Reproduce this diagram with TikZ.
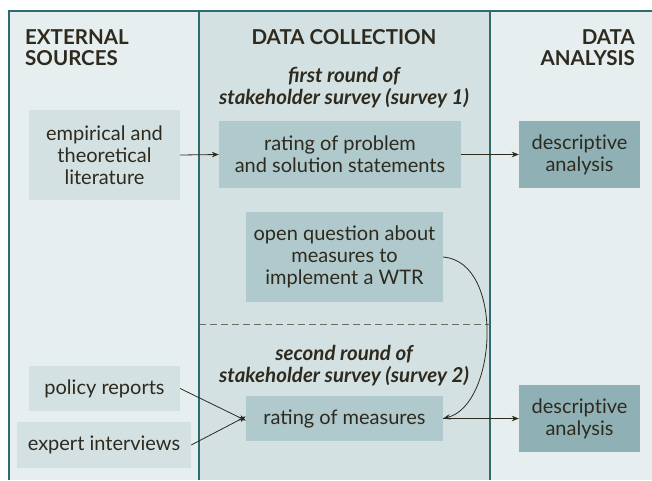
\documentclass[tikz,border=0pt]{standalone}
\usepackage{fontspec}
\setmainfont{Lato}
\usetikzlibrary{arrows.meta}
\definecolor{bglight}{HTML}{E6EEF0}
\definecolor{bgmid}{HTML}{D4E1E3}
\definecolor{boxlight}{HTML}{D3E1E2}
\definecolor{boxmid}{HTML}{AFC9CD}
\definecolor{boxdark}{HTML}{8FB1B5}
\definecolor{framec}{HTML}{2E6B6E}
\definecolor{ink}{HTML}{2E2A1E}
\definecolor{dashc}{HTML}{6D6A5E}
\newcommand{\descr}{descript\kern0pt ive}
\tikzset{
  every node/.style={text=ink},
  boxbase/.style={inner sep=0pt, align=center, font=\fontsize{20}{22}\selectfont},
  srcbox/.style={boxbase, fill=boxlight},
  colbox/.style={boxbase, fill=boxmid},
  anbox/.style={boxbase, fill=boxdark},
  hdr/.style={inner sep=0pt, font=\fontsize{20.5}{21}\selectfont\bfseries},
  ttl/.style={inner sep=0pt, align=center, font=\fontsize{20.5}{22}\selectfont\bfseries\itshape},
  conn/.style={draw=ink, line width=0.8pt, -{Stealth[length=7pt,width=5.5pt]}},
  frame/.style={draw=framec, line width=1.4pt}
}
\begin{document}
\begin{tikzpicture}[x=1pt,y=-1pt]
\useasboundingbox (0,0) rectangle (652,480);
\fill[white] (0,0) rectangle (652,480);
% columns
\fill[bglight] (9,11) rectangle (199,480);
\fill[bgmid] (199,11) rectangle (490,480);
\fill[bglight] (490,11) rectangle (652,480);
\draw[frame] (9,480) -- (9,11) -- (652,11);
\draw[frame] (199,11) -- (199,480);
\draw[frame] (490,11) -- (490,480);
\draw[dashc, line width=0.9pt, dash pattern=on 7pt off 4pt] (199,324) -- (490,324);
% headers
\node[hdr, anchor=north west, align=left] (h1) at (25,29) {EXTERNAL\\SOURCES};
\node[hdr, anchor=north] (h2) at (344,29) {DATA COLLECTION};
\node[hdr, anchor=north east, align=right] (h3) at (635,29) {DATA\\ANALYSIS};
\node[ttl, anchor=north] (t1) at (344,67) {first round of\\stakeholder survey (survey 1)};
\node[ttl, anchor=north] (t2) at (344,345) {second round of\\stakeholder survey (survey 2)};
% boxes
\node[srcbox, minimum width=151pt, minimum height=90pt] (emp) at (104.5,155) {empirical and\\theoretical\\literature};
\node[colbox, minimum width=242pt, minimum height=67pt] (r1) at (340,154.5) {rating of problem\\and solution statements};
\node[anbox, minimum width=121pt, minimum height=67pt] (da1) at (579.5,154.5) {\descr\\analysis};
\node[colbox, minimum width=197pt, minimum height=90pt] (oq) at (344.5,257) {open question about\\measures to\\implement a WTR};
\node[srcbox, minimum width=151pt, minimum height=45pt] (pol) at (104.5,388.5) {policy reports};
\node[srcbox, minimum width=174pt, minimum height=46pt] (exp) at (104,445) {expert interviews};
\node[colbox, minimum width=197pt, minimum height=45pt] (rm) at (344.5,418.5) {rating of measures};
\node[anbox, minimum width=121pt, minimum height=67pt] (da2) at (579.5,418.5) {\descr\\analysis};
% connectors
\draw[conn] (emp.east) -- (r1.west);
\draw[conn] (r1.east) -- (da1.west);
\draw[conn] (pol.east) -- ([yshift=-2pt]rm.west);
\draw[conn] (exp.east) -- ([yshift=2pt]rm.west);
\draw[conn] (oq.east) .. controls (505,262) and (497,405) .. (rm.east);
\draw[conn] (rm.east) -- (da2.west);
\end{tikzpicture}
\end{document}
